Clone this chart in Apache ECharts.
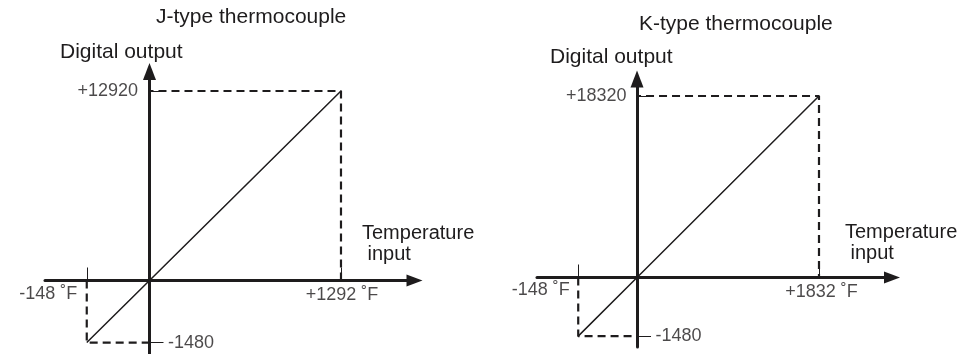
<!DOCTYPE html>
<html>
<head>
<meta charset="utf-8">
<script src="https://cdn.jsdelivr.net/npm/echarts@6/dist/echarts.min.js"></script>
<style>
  html, body { margin: 0; padding: 0; background: #ffffff; }
  #chart { width: 966px; height: 354px; }
</style>
</head>
<body>
<div id="chart"></div>
<script>
// ---- Data ----
const jTitle = 'J-type thermocouple';
const kTitle = 'K-type thermocouple';
const yName = 'Digital output';
const xName = 'Temperature\n input';

const jTemp = [-148, 0, 1292];        // °F input
const jOut  = [-1480, 0, 12920];      // digital output
const kTemp = [-148, 0, 1832];
const kOut  = [-1480, 0, 18320];

const jXLabels = ['-148 ˚F', '+1292 ˚F'];
const jYLabels = ['-1480', '+12920'];
const kXLabels = ['-148 ˚F', '+1832 ˚F'];
const kYLabels = ['-1480', '+18320'];

// ---- Schematic drawing: the negative quadrant is drawn enlarged ----
const J_NEG = 2.86, K_NEG = 4.0;
const disp = (v, s) => (v < 0 ? v * s : v);

const INK = '#1e1c1d';
const FONT = "'Liberation Sans', Arial, sans-serif";

function axesFor(gi, temp, out, s, xr, yr) {
  const x = {
    type: 'value', gridIndex: gi, min: xr[0], max: xr[1],
    axisLine: { show: true, onZero: true, symbol: ['none', 'triangle'], symbolSize: [12, 16],
      lineStyle: { color: INK, width: 3 } },
    axisTick: { show: true, inside: true, length: 13,
      customValues: [disp(temp[0], s), disp(temp[2], s)],
      lineStyle: { color: INK, width: 1 } },
    axisLabel: { show: false }, splitLine: { show: false }
  };
  const y = {
    type: 'value', gridIndex: gi, min: yr[0], max: yr[1],
    axisLine: { show: true, onZero: true, symbol: ['none', 'triangle'], symbolSize: [13, 17],
      lineStyle: { color: INK, width: 3 } },
    axisTick: { show: true, inside: true, length: 14,
      customValues: [disp(out[0], s), disp(out[2], s)],
      lineStyle: { color: INK, width: 1 } },
    axisLabel: { show: false }, splitLine: { show: false }
  };
  return [x, y];
}

function seriesFor(gi, temp, out, s, xl, yl, lab) {
  const pts = temp.map((t, i) => [disp(t, s), disp(out[i], s)]);
  const lo = pts[0], hi = pts[2];
  const txt = { color: INK, fontFamily: FONT, fontSize: 18 };
  return [
    { type: 'line', xAxisIndex: gi, yAxisIndex: gi, data: pts, showSymbol: false, silent: true,
      lineStyle: { color: INK, width: 1.5 }, z: 3 },
    { type: 'line', xAxisIndex: gi, yAxisIndex: gi, data: [[lo[0], 0], lo, [0, lo[1]]],
      showSymbol: false, silent: true, lineStyle: { color: INK, width: 2.2, type: [8, 5] }, z: 2 },
    { type: 'line', xAxisIndex: gi, yAxisIndex: gi, data: [[0, hi[1]], hi, [hi[0], 0]],
      showSymbol: false, silent: true, lineStyle: { color: INK, width: 2.2, type: [8, 5], dashOffset: 4 }, z: 2 },
    { type: 'scatter', xAxisIndex: gi, yAxisIndex: gi, symbolSize: 1, silent: true,
      itemStyle: { color: 'rgba(0,0,0,0)' }, z: 4,
      data: [
        { value: [lo[0], 0], label: Object.assign({ show: true, formatter: xl[0], position: 'left', distance: lab.x0d, offset: [0, lab.x0y] }, txt) },
        { value: [hi[0], 0], label: Object.assign({ show: true, formatter: xl[1], position: 'bottom', distance: lab.x1d, offset: [lab.x1x, 0] }, txt) },
        { value: [0, hi[1]], label: Object.assign({ show: true, formatter: yl[1], position: 'left', distance: lab.y1d }, txt) },
        { value: [0, lo[1]], label: Object.assign({ show: true, formatter: yl[0], position: 'right', distance: 18 }, txt) }
      ] }
  ];
}

const jAx = axesFor(0, jTemp, jOut, J_NEG, [-705, 1788], [-5011, 14250]);
const kAx = axesFor(1, kTemp, kOut, K_NEG, [-1007, 2567], [-7015, 20036]);

const titleStyle = (size) => ({ color: INK, fontFamily: FONT, fontSize: size, fontWeight: 'normal', lineHeight: 21 });

const option = {
  backgroundColor: '#ffffff',
  animation: false,
  title: [
    { text: jTitle, left: 156, top: 7, padding: 0, textStyle: titleStyle(21) },
    { text: kTitle, left: 639, top: 13.5, padding: 0, textStyle: titleStyle(21) },
    { text: yName, left: 60, top: 41.5, padding: 0, textStyle: titleStyle(21) },
    { text: yName, left: 550, top: 47, padding: 0, textStyle: titleStyle(21) },
    { text: xName, left: 362, top: 223, padding: 0, textStyle: titleStyle(20) },
    { text: xName, left: 845, top: 222, padding: 0, textStyle: titleStyle(20) }
  ],
  grid: [
    { left: 45, top: 71.5, width: 369.5, height: 282.5 },
    { left: 537, top: 79, width: 355, height: 268 }
  ],
  xAxis: [jAx[0], kAx[0]],
  yAxis: [jAx[1], kAx[1]],
  series: [
    ...seriesFor(0, jTemp, jOut, J_NEG, jXLabels, jYLabels, { x0d: 9, x0y: 13.5, x1d: 5.5, x1x: 1, y1d: 11 }),
    ...seriesFor(1, kTemp, kOut, K_NEG, kXLabels, kYLabels, { x0d: 8, x0y: 12.5, x1d: 5, x1x: 2.5, y1d: 10 })
  ]
};

const chart = echarts.init(document.getElementById('chart'), null, { renderer: 'canvas' });
chart.setOption(option);
</script>
</body>
</html>
